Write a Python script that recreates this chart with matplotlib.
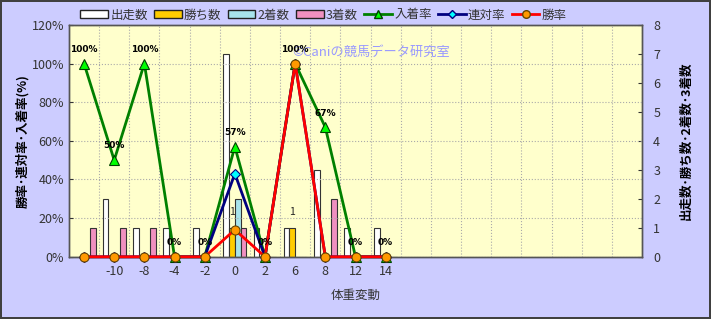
import matplotlib.pyplot as plt
import matplotlib.patches as mpatches
from matplotlib.lines import Line2D
import numpy as np

plt.rcParams['font.family'] = ['Noto Sans CJK JP', 'DejaVu Sans']

categories = ['', '-10', '-8', '-4', '-2', '0', '2', '6', '8', '12', '14'] + [''] * 8
runs = [0, 2, 1, 1, 1, 7, 1, 1, 3, 1, 1]
wins = [0, 0, 0, 0, 0, 1, 0, 1, 0, 0, 0]
seconds = [0, 0, 0, 0, 0, 2, 0, 0, 0, 0, 0]
thirds = [1, 1, 1, 0, 0, 1, 0, 0, 2, 0, 0]
place_rate = [100, 50, 100, 0, 0, 57, 0, 100, 67, 0, 0]
rentai_rate = [0, 0, 0, 0, 0, 43, 0, 100, 0, 0, 0]
win_rate = [0, 0, 0, 0, 0, 14, 0, 100, 0, 0, 0]

n = len(runs)
x = np.arange(n)
txt = '#333333'

fig = plt.figure(figsize=(7.11, 3.19), dpi=100)
fig.patch.set_facecolor('#CCCCFF')
fig.patch.set_edgecolor('#404040')
fig.patch.set_linewidth(1.5)

ax = fig.add_axes([0.097, 0.195, 0.806, 0.727])
ax2 = ax.twinx()
ax.set_zorder(ax2.get_zorder() + 1)
ax.patch.set_visible(False)
ax2.patch.set_visible(True)
ax2.patch.set_facecolor('#FFFFCC')

# bars (counts, right axis)
w = 0.19
bar_specs = [(runs, 'white', '出走数'), (wins, '#FFCC00', '勝ち数'),
             (seconds, '#A8E4EC', '2着数'), (thirds, '#F090C0', '3着数')]
for k, (vals, col, lab) in enumerate(bar_specs):
    ax2.bar(x + (k - 1.5) * w, vals, width=w, color=col, edgecolor='#333333',
            linewidth=0.8, label=lab)
for i, v in enumerate(wins):
    if v > 0:
        ax2.annotate(str(v), (x[i] - 0.5 * w, v), xytext=(0, 8), textcoords='offset points',
                     ha='center', va='bottom', fontsize=7.5, color='#222222')

# lines (rates, left axis)
ax.plot(x, place_rate, color='#008000', lw=2, marker='^', ms=7.5,
        mfc='#00FF00', mec='#004000', mew=0.8, clip_on=False, zorder=3)
ax.plot(x, rentai_rate, color='#000080', lw=2, marker='D', ms=5,
        mfc='#00FFFF', mec='#000080', mew=0.8, clip_on=False, zorder=4)
ax.plot(x, win_rate, color='#FF0000', lw=2, marker='o', ms=6.5,
        mfc='#FF9900', mec='#664400', mew=0.8, clip_on=False, zorder=5)
for i, v in enumerate(place_rate):
    ax.annotate(f'{v}%', (x[i], v), xytext=(0, 7), textcoords='offset points',
                ha='center', va='bottom', fontsize=6.5, fontweight='bold', color='black',
                family=['DejaVu Sans'], zorder=6)

ax.set_xlim(-0.5, len(categories) - 0.5)
ax.set_ylim(0, 120)
ax2.set_ylim(0, 8)
ax.set_yticks(np.arange(0, 121, 20))
ax.set_yticklabels([f'{v}%' for v in range(0, 121, 20)])
ax2.set_yticks(range(0, 9))
ax.set_xticks(np.arange(len(categories)))
ax.set_xticklabels(categories)
ax.set_xticks(np.arange(len(categories)) + 0.5, minor=True)

ax.grid(True, which='minor', axis='x', color='#AAAAAA', linestyle=':', linewidth=0.8)
ax.grid(True, which='major', axis='y', color='#AAAAAA', linestyle=':', linewidth=0.8)

ax.tick_params(axis='x', which='both', length=0, labelsize=9, colors=txt, pad=6)
ax.tick_params(axis='y', direction='in', length=3, labelsize=9, colors=txt)
ax2.tick_params(axis='y', direction='in', length=3, labelsize=9, colors=txt, pad=8)
for a in (ax, ax2):
    for s in a.spines.values():
        s.set_color('#555555')
        s.set_linewidth(1)

ax.set_ylabel('勝率･連対率･入着率(%)', fontsize=9, fontweight='bold', labelpad=2)
ax2.set_ylabel('出走数･勝ち数･2着数･3着数', fontsize=9, fontweight='bold',
               rotation=90, labelpad=14)
ax.set_xlabel('体重変動', fontsize=9, color=txt, labelpad=8)

ax.text(0.39, 0.88, '©Caniの競馬データ研究室', transform=ax.transAxes, fontsize=9.5,
        color='#9999FF', ha='left', va='center', zorder=0)

handles = [mpatches.Patch(facecolor=c, edgecolor='#222222', label=l) for _, c, l in bar_specs]
handles += [
    Line2D([], [], color='#008000', lw=2, marker='^', ms=6, mfc='#00FF00', mec='#004000', label='入着率'),
    Line2D([], [], color='#000080', lw=2, marker='D', ms=4.5, mfc='#00FFFF', mec='#000080', label='連対率'),
    Line2D([], [], color='#FF0000', lw=2, marker='o', ms=5.5, mfc='#FF9900', mec='#664400', label='勝率'),
]
leg = fig.legend(handles=handles, loc='center', bbox_to_anchor=(0.455, 0.953), ncol=7,
                 frameon=False, fontsize=9, handlelength=2.2, handleheight=0.5,
                 columnspacing=0.5, handletextpad=0.2)
for t in leg.get_texts():
    t.set_color(txt)

fig.savefig('out.png', dpi=100, facecolor=fig.get_facecolor(), edgecolor=fig.get_edgecolor())
